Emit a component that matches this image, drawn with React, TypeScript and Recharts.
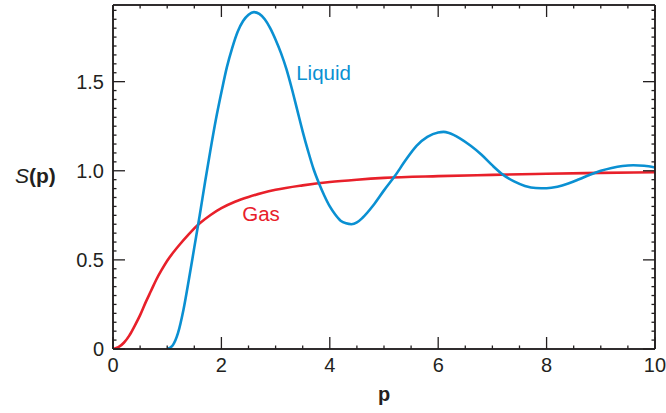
import React from "react";
import { LineChart, Line, XAxis, YAxis, ReferenceDot } from "recharts";

// S(p) for the liquid: starts at p = 1
const liquidP = [1.0, 1.1, 1.2, 1.3, 1.4, 1.5, 1.6, 1.7, 1.8, 1.9, 2.0, 2.1, 2.2, 2.3, 2.4, 2.5, 2.6, 2.7, 2.8, 2.9, 3.0, 3.1, 3.2, 3.3, 3.4, 3.5, 3.6, 3.7, 3.8, 3.9, 4.0, 4.1, 4.2, 4.3, 4.4, 4.5, 4.6, 4.8, 5.0, 5.2, 5.4, 5.6, 5.8, 6.0, 6.1, 6.2, 6.4, 6.6, 6.8, 7.0, 7.2, 7.4, 7.6, 7.8, 8.0, 8.2, 8.4, 8.6, 8.8, 9.0, 9.2, 9.4, 9.6, 9.8, 10.0];
const liquidS = [0, 0.02, 0.09, 0.22, 0.39, 0.57, 0.75, 0.94, 1.12, 1.29, 1.44, 1.58, 1.69, 1.78, 1.84, 1.875, 1.89, 1.88, 1.85, 1.8, 1.735, 1.66, 1.57, 1.46, 1.34, 1.22, 1.11, 1.01, 0.93, 0.86, 0.8, 0.755, 0.72, 0.705, 0.7, 0.71, 0.735, 0.805, 0.89, 0.97, 1.06, 1.14, 1.19, 1.215, 1.218, 1.212, 1.182, 1.14, 1.09, 1.03, 0.977, 0.94, 0.915, 0.903, 0.902, 0.91, 0.928, 0.952, 0.978, 1.0, 1.016, 1.027, 1.031, 1.028, 1.018];

// S(p) for the gas
const gasP = [0, 0.1, 0.2, 0.3, 0.4, 0.5, 0.6, 0.7, 0.8, 0.9, 1.0, 1.2, 1.4, 1.6, 1.8, 2.0, 2.25, 2.5, 2.75, 3.0, 3.5, 4.0, 4.5, 5.0, 6.0, 7.0, 8.0, 9.0, 10.0];
const gasS = [0, 0.01, 0.035, 0.075, 0.13, 0.19, 0.26, 0.325, 0.39, 0.445, 0.495, 0.575, 0.645, 0.705, 0.752, 0.79, 0.826, 0.853, 0.875, 0.893, 0.918, 0.937, 0.95, 0.96, 0.97, 0.977, 0.983, 0.988, 0.992];

// ticks
const xMajor = [0, 2, 4, 6, 8, 10];
const xMinor = [0.5, 1, 1.5, 2.5, 3, 3.5, 4.5, 5, 5.5, 6.5, 7, 7.5, 8.5, 9, 9.5];
const yMajor = [0, 0.5, 1, 1.5];
const yLabels = ["0", "0.5", "1.0", "1.5"];
const yMinor = Array.from({ length: 39 }, (_, i) => +(i * 0.05).toFixed(2)).filter((v) => !yMajor.includes(v));

const liquidData = liquidP.map((p, i) => ({ p, s: liquidS[i] }));
const gasData = gasP.map((p, i) => ({ p, s: gasS[i] }));

const INK = "#231f20";
const BLUE = "#0a90d2";
const RED = "#e8202a";
const FONT = "'Liberation Sans', Arial, Helvetica, sans-serif";

const W = 666;
const H = 413;
const PLOT_LEFT = 113;
const PLOT_TOP = 5;
const PLOT_RIGHT = 655;
const PLOT_BOTTOM = 349;
const X_MAX = 10;
const Y_MAX = 1.93;
const MAJOR = -12; // negative tick size -> ticks point into the plot
const MINOR = -3.5;
const THIN = 0.01; // axes of zero size are not drawn, so use a sliver

const noLabel = () => <g />;

const XLabel = (props: any) => (
  <text x={props.x} y={props.y + 35} textAnchor="middle" fill={INK} fontSize={20} fontFamily={FONT}>
    {String(props.payload.value)}
  </text>
);

const YLabel = (props: any) => {
  const idx = yMajor.findIndex((m) => Math.abs(m - props.payload.value) < 1e-6);
  return (
    <text x={props.x - 21} y={props.y + 7} textAnchor="end" fill={INK} fontSize={20} fontFamily={FONT}>
      {yLabels[idx]}
    </text>
  );
};

const common = {
  type: "number" as const,
  allowDataOverflow: true,
  interval: 0 as const,
  tickMargin: 0,
  stroke: INK,
  axisLine: { stroke: INK, strokeWidth: 1.5 },
  tickLine: { stroke: INK, strokeWidth: 1.3 },
};

export default function App() {
  return (
    <div style={{ position: "absolute", left: 0, top: 0, background: "#fff" }}>
      <LineChart
        width={W}
        height={H}
        margin={{ top: PLOT_TOP, right: W - PLOT_RIGHT, bottom: 0, left: 0 }}
      >
        {/* bottom: major with labels, then the sliver minor axis ("b0" sorts next to the plot) */}
        <XAxis
          {...common}
          xAxisId="b1"
          dataKey="p"
          domain={[0, X_MAX]}
          ticks={xMajor}
          tickSize={MAJOR}
          tick={XLabel}
          height={H - PLOT_BOTTOM}
          label={{
            content: (p: any) => (
              <text
                x={(PLOT_LEFT + PLOT_RIGHT) / 2}
                y={PLOT_BOTTOM + 52}
                textAnchor="middle"
                fontSize={20}
                fontWeight="bold"
                fill={INK}
                fontFamily={FONT}
              >
                p
              </text>
            ),
          }}
        />
        <XAxis {...common} xAxisId="b0" dataKey="p" domain={[0, X_MAX]} ticks={xMinor} tickSize={MINOR} tick={noLabel} height={THIN} />
        <XAxis {...common} xAxisId="t" orientation="top" dataKey="p" domain={[0, X_MAX]} ticks={xMajor} tickSize={MAJOR} tick={noLabel} height={THIN} />
        <XAxis {...common} xAxisId="tm" orientation="top" dataKey="p" domain={[0, X_MAX]} ticks={xMinor} tickSize={MINOR} tick={noLabel} height={THIN} />

        <YAxis
          {...common}
          yAxisId="l1"
          domain={[0, Y_MAX]}
          ticks={yMajor}
          tickSize={MAJOR}
          tick={YLabel}
          width={PLOT_LEFT}
          label={{
            content: () => (
              <text x={15} y={182.5} fontSize={21} fill={INK} fontFamily={FONT}>
                <tspan fontStyle="italic">S</tspan>
                <tspan fontWeight="bold">(p)</tspan>
              </text>
            ),
          }}
        />
        <YAxis {...common} yAxisId="l0" domain={[0, Y_MAX]} ticks={yMinor} tickSize={MINOR} tick={noLabel} width={THIN} />
        <YAxis {...common} yAxisId="r" orientation="right" domain={[0, Y_MAX]} ticks={yMajor} tickSize={MAJOR} tick={noLabel} width={THIN} />
        <YAxis {...common} yAxisId="rm" orientation="right" domain={[0, Y_MAX]} ticks={yMinor} tickSize={MINOR} tick={noLabel} width={THIN} />

        {/* hidden copies so the tick-only axes have a series */}
        <Line xAxisId="b0" yAxisId="l0" data={gasData} dataKey="s" stroke="none" dot={false} activeDot={false} isAnimationActive={false} />
        <Line xAxisId="t" yAxisId="r" data={gasData} dataKey="s" stroke="none" dot={false} activeDot={false} isAnimationActive={false} />
        <Line xAxisId="tm" yAxisId="rm" data={gasData} dataKey="s" stroke="none" dot={false} activeDot={false} isAnimationActive={false} />

        <Line
          xAxisId="b1"
          yAxisId="l1"
          data={gasData}
          dataKey="s"
          type="monotone"
          stroke={RED}
          strokeWidth={2.6}
          dot={false}
          isAnimationActive={false}
        />
        <Line
          xAxisId="b1"
          yAxisId="l1"
          data={liquidData}
          dataKey="s"
          type="monotone"
          stroke={BLUE}
          strokeWidth={2.6}
          dot={false}
          isAnimationActive={false}
        />
        <ReferenceDot
          xAxisId="b1"
          yAxisId="l1"
          x={3.38}
          y={1.511}
          r={0}
          shape={(p: any) => (
            <text x={p.cx} y={p.cy} fill={BLUE} fontSize={20.5} fontFamily={FONT}>
              Liquid
            </text>
          )}
        />
        <ReferenceDot
          xAxisId="b1"
          yAxisId="l1"
          x={2.384}
          y={0.719}
          r={0}
          shape={(p: any) => (
            <text x={p.cx} y={p.cy} fill={RED} fontSize={20.5} fontFamily={FONT}>
              Gas
            </text>
          )}
        />
      </LineChart>
    </div>
  );
}
